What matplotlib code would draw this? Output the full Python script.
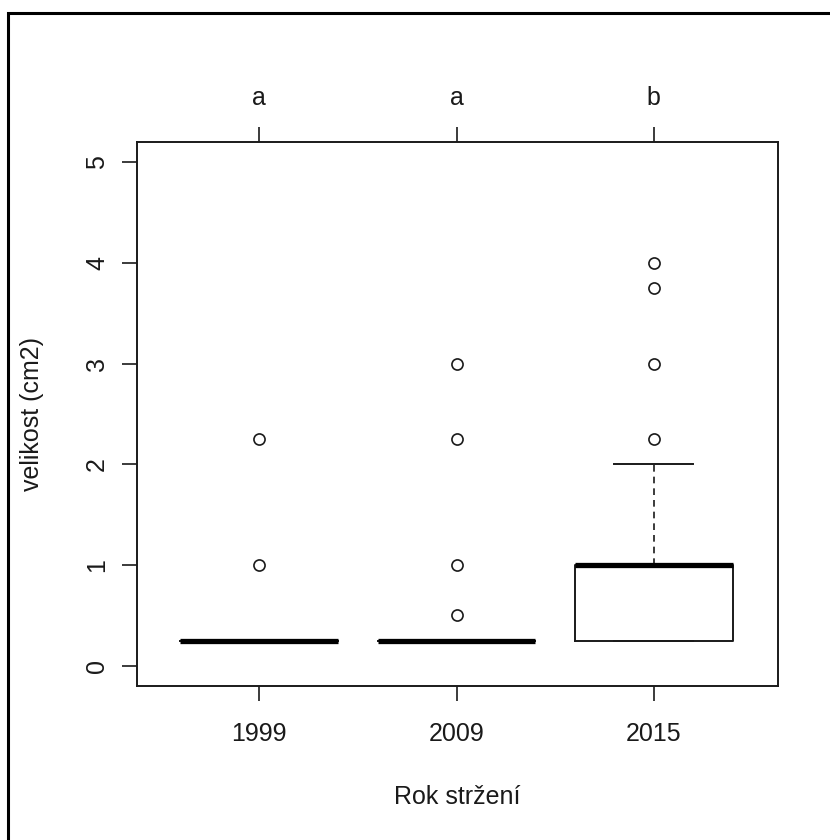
import matplotlib

matplotlib.use("Agg")

import matplotlib.pyplot as plt
from matplotlib.patches import Rectangle

plt.rcParams["font.family"] = ["Liberation Sans", "DejaVu Sans"]

years = ["1999", "2009", "2015"]
letters = ["a", "a", "b"]
q1 = [0.25, 0.25, 0.25]
medians = [0.25, 0.25, 1.0]
q3 = [0.25, 0.25, 1.0]
whisk_lo = [0.25, 0.25, 0.25]
whisk_hi = [0.25, 0.25, 2.0]
outliers = [
    [1.0, 2.25],
    [0.5, 1.0, 2.25, 3.0],
    [2.25, 3.0, 3.75, 4.0],
]

INK = "#1a1a1a"
FS = 18

stats = []
for i, name in enumerate(years):
    stats.append({
        "label": name,
        "q1": q1[i],
        "med": medians[i],
        "q3": q3[i],
        "whislo": whisk_lo[i],
        "whishi": whisk_hi[i],
        "fliers": outliers[i],
    })

fig = plt.figure(figsize=(8.3, 8.4), dpi=100)
ax = fig.add_axes([137 / 830, 1 - 686 / 840, (778 - 137) / 830, (686 - 142) / 840])

positions = [1, 2, 3]
ax.bxp(
    stats,
    positions=positions,
    widths=0.8,
    capwidths=0.4,
    boxprops=dict(color=INK, linewidth=1.4),
    medianprops=dict(color="black", linewidth=3.8, solid_capstyle="butt"),
    whiskerprops=dict(color=INK, linewidth=1.2, linestyle=(0, (4, 3))),
    capprops=dict(color=INK, linewidth=1.4),
    flierprops=dict(marker="o", markerfacecolor="none", markeredgecolor=INK,
                    markersize=8, markeredgewidth=1.2),
)

ax.set_xlim(0.38, 3.63)
ax.set_ylim(-0.2, 5.2)
ax.set_yticks(range(6))
ax.set_yticklabels([str(v) for v in range(6)], rotation=90, va="center")
ax.set_xticks(positions)
ax.set_xticklabels(years)
ax.tick_params(axis="both", direction="out", length=11, width=1.2, color=INK,
               labelsize=FS, labelcolor=INK)
ax.tick_params(axis="x", pad=15)
ax.tick_params(axis="y", pad=9)
for s in ax.spines.values():
    s.set_color(INK)
    s.set_linewidth(1.4)

ax.set_xlabel("Rok stržení", fontsize=FS, color=INK, labelpad=28)
ax.set_ylabel("velikost (cm2)", fontsize=FS, color=INK, labelpad=30)

top = ax.secondary_xaxis("top")
top.set_xticks(positions)
top.set_xticklabels(letters)
top.tick_params(direction="out", length=11, width=1.2, color=INK,
                labelsize=FS, labelcolor=INK, pad=12)
top.spines["top"].set_visible(False)

# outer frame, only left and top edges fall inside the picture
fig.add_artist(Rectangle((8 / 830, -0.1), 1.2, 1.1 - 13 / 840,
                         transform=fig.transFigure, fill=False,
                         edgecolor="black", linewidth=2.2))

fig.savefig("out.png", dpi=100, facecolor="white")
